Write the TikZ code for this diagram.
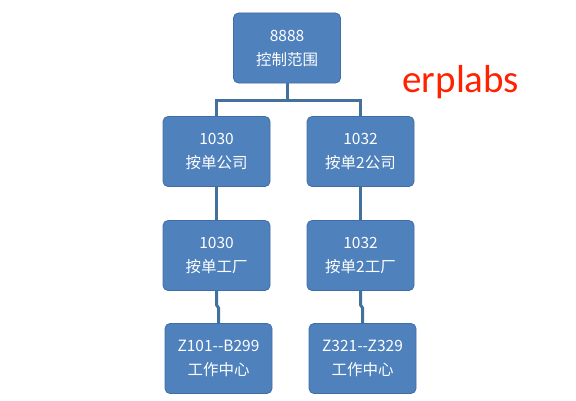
\documentclass[tikz,border=0pt]{standalone}
\usepackage{fontspec}
\newfontfamily\cjk{Noto Sans CJK SC}
\newfontfamily\brand{Carlito}
\definecolor{boxblue}{HTML}{4F81BD}
\definecolor{boxedge}{HTML}{3F6EA6}
\definecolor{linkblue}{HTML}{41719C}
\definecolor{brandred}{HTML}{FF2200}
\tikzset{
  orgbox/.style={draw=boxedge, line width=0.8pt, fill=boxblue, rounded corners=5pt,
    minimum width=107pt, minimum height=70pt, text=white, align=center,
    font=\cjk\fontsize{15.5}{24}\selectfont},
  link/.style={draw=linkblue, line width=3pt}
}
\begin{document}
\begin{tikzpicture}[x=1pt,y=1pt]
        \useasboundingbox (0,0) rectangle (576,400);
        % boxes
        \node[orgbox] (ctrl) at (287,352) {8888\\控制范围};
        \node[orgbox] (co1) at (216.5,248.5) {1030\\按单公司};
        \node[orgbox] (co2) at (360.5,248.5) {1032\\按单2公司};
        \node[orgbox] (pl1) at (216.5,144.5) {1030\\按单工厂};
        \node[orgbox] (pl2) at (360.5,144.5) {1032\\按单2工厂};
        \node[orgbox] (wc1) at (218.5,41.5) {Z101--B299\\工作中心};
        \node[orgbox] (wc2) at (362.5,41.5) {Z321--Z329\\工作中心};
        % links
        \draw[link] (ctrl.south) -- ++(0,-17) -| (co1.north);
        \draw[link] (ctrl.south) -- ++(0,-17) -| (co2.north);
        \draw[link] (co1.south) -- (pl1.north);\draw[link] (co2.south) -- (pl2.north);
        \draw[link] (pl1.south) -- ++(0,-14) -- ++(2,-3) |- (wc1.north);
        \draw[link] (pl2.south) -- ++(0,-14) -- ++(2,-3) |- (wc2.north);
        % brand
        \node[text=brandred, font=\brand\fontsize{39}{42}\selectfont, anchor=base west] (brand) at (399,308) {erplabs};
\end{tikzpicture}
\end{document}
